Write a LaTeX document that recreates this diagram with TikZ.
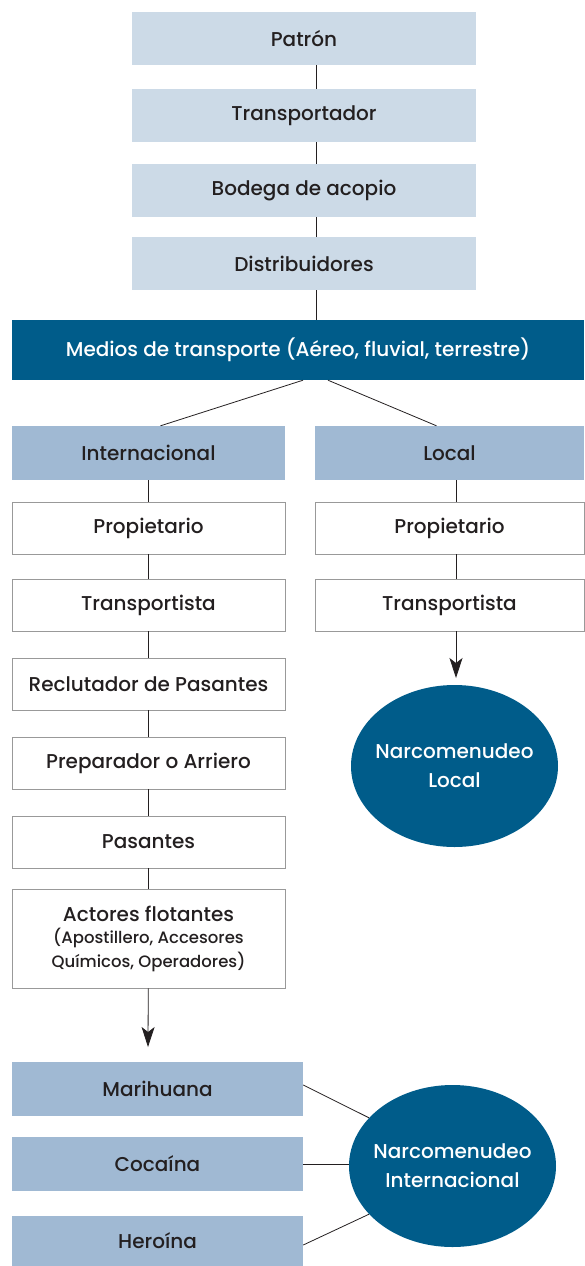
\documentclass[tikz,border=0pt]{standalone}
\usepackage{fontspec}
\setmainfont{Poppins Medium}
\usetikzlibrary{shapes.geometric,arrows.meta}
\definecolor{azulclaro}{HTML}{CCDAE7}
\definecolor{azulmedio}{HTML}{A0B9D3}
\definecolor{azuloscuro}{HTML}{005C8A}
\definecolor{tinta}{HTML}{231F20}
\begin{document}
\begin{tikzpicture}[x=1pt,y=-1pt]
\tikzset{caja/.style={inner sep=0pt, align=center, text=tinta, font=\fontsize{20}{24}\selectfont},
  cajaclara/.style={caja, fill=azulclaro, minimum width=344pt, minimum height=53pt},
  cajamedia/.style={caja, fill=azulmedio, minimum height=54pt},
  cajablanca/.style={caja, draw=gray!80, line width=0.6pt, minimum height=52pt},
  narco/.style={ellipse, fill=azuloscuro, text=white, inner xsep=-7pt, inner ysep=0pt, minimum width=207pt, minimum height=162pt, align=center, font=\fontsize{20}{29}\selectfont},
  linea/.style={draw=tinta, line width=0.8pt},
  flecha/.style={linea, -{Stealth[length=20pt,width=13pt,inset=5pt]}}}
\useasboundingbox (0,0) rectangle (584,1266);
% cadena superior
\node[cajaclara] (S1) at (304,38.5) {Patrón};
\node[cajaclara] (S2) at (304,115.5) {Transportador};
\node[cajaclara] (S3) at (304,190.5) {Bodega de acopio};
\node[cajaclara] (S4) at (304,263.5) {Distribuidores};
\coordinate (eje) at (316,0);
\draw[linea] (S1.south -| eje) -- (S2.north -| eje);
\draw[linea] (S2.south -| eje) -- (S3.north -| eje);
\draw[linea] (S3.south -| eje) -- (S4.north -| eje);
\node[caja, fill=azuloscuro, text=white, minimum width=572pt, minimum height=60pt] (M) at (298,350) {Medios de transporte (Aéreo, fluvial, terrestre)};
\draw[linea] (S4.south -| eje) -- (M.north -| eje);
% ramas
\node[cajamedia, minimum width=273pt] (I0) at (148.5,453) {Internacional};
\node[cajamedia, minimum width=269pt] (L0) at (449.5,453) {Local};
\draw[linea] ([xshift=5pt]M.south) -- ([xshift=12pt]I0.north);
\draw[linea] ([xshift=30pt]M.south) -- ([xshift=-13pt]L0.north);
% internacional
\node[cajablanca, minimum width=273pt] (I1) at (148.5,528) {Propietario};
\node[cajablanca, minimum width=273pt] (I2) at (148.5,605) {Transportista};
\node[cajablanca, minimum width=273pt] (I3) at (148.5,684) {Reclutador de Pasantes};
\node[cajablanca, minimum width=273pt] (I4) at (148.5,763) {Preparador o Arriero};
\node[cajablanca, minimum width=273pt] (I5) at (148.5,842) {Pasantes};
\node[cajablanca, minimum width=273pt, minimum height=99pt] (I6) at (148.5,938.5) {Actores flotantes\\[-2pt]{\fontsize{16.5}{22}\selectfont (Apostillero, Accesores}\\{\fontsize{16.5}{22}\selectfont Químicos, Operadores)}};
\draw[linea] (I0) -- (I1);
\draw[linea] (I1) -- (I2);
\draw[linea] (I2) -- (I3);
\draw[linea] (I3) -- (I4);
\draw[linea] (I4) -- (I5);
\draw[linea] (I5) -- (I6);
\coordinate (FI) at (148,1047);
\draw[flecha] (I6) -- (FI);
% local
\coordinate (ejeL) at (456,0);
\node[cajablanca, minimum width=269pt] (L1) at (449.5,528) {Propietario};
\node[cajablanca, minimum width=269pt] (L2) at (449.5,605) {Transportista};
\draw[linea] (L0.south -| ejeL) -- (L1.north -| ejeL);
\draw[linea] (L1.south -| ejeL) -- (L2.north -| ejeL);
\node[narco] (NL) at (454.5,766) {Narcomenudeo\\Local};
\coordinate (FL) at (456,678);
\draw[flecha] (L2.south -| ejeL) -- (FL);
% drogas
\node[cajamedia, minimum width=291pt] (D1) at (157.5,1089) {Marihuana};
\node[cajamedia, minimum width=291pt] (D2) at (157.5,1164) {Cocaína};
\node[cajamedia, minimum width=291pt, minimum height=50pt] (D3) at (157.5,1241) {Heroína};
\node[narco] (NI) at (452.5,1166) {Narcomenudeo\\Internacional};
\draw[linea] ([yshift=4pt]D1.east) -- (NI.150);
\draw[linea] (D2.east) -- (D2.east -| NI.west);
\draw[linea] ([yshift=-4pt]D3.east) -- (NI.210);
\end{tikzpicture}
\end{document}
